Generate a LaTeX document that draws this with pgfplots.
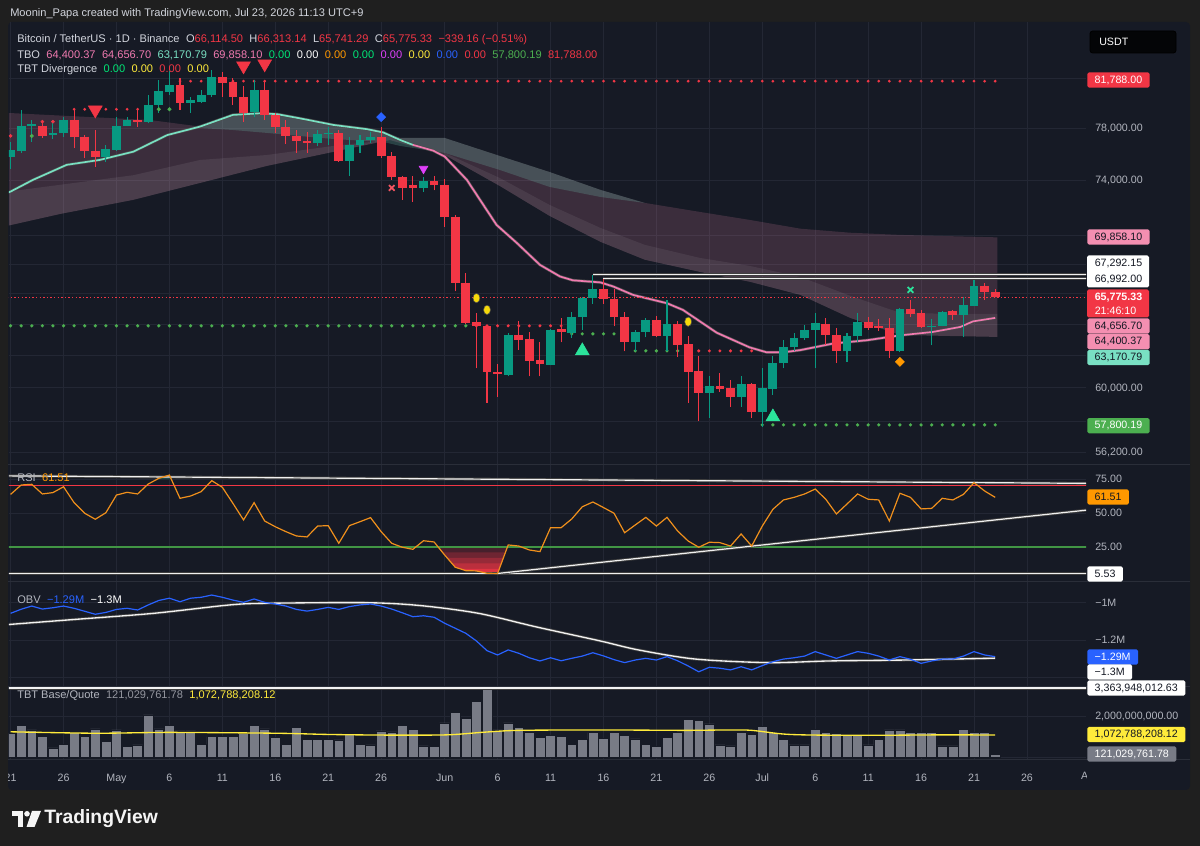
\documentclass[border=0pt]{standalone}
\usepackage{fontspec}
\setmainfont{Liberation Sans}
\usepackage{pgfplots}
\pgfplotsset{compat=1.18}

\definecolor{bgout}{HTML}{1F1F1F}
\definecolor{bgpanel}{HTML}{161A25}
\definecolor{gridc}{HTML}{232734}
\definecolor{sepc}{HTML}{2A2E39}
\definecolor{txt}{HTML}{D1D4DC}
\definecolor{axtxt}{HTML}{B2B5BE}
\definecolor{cgreen}{HTML}{089981}
\definecolor{cred}{HTML}{F23645}
\definecolor{cpink}{HTML}{F48FB1}
\definecolor{linepink}{HTML}{F07AB0}
\definecolor{cteal}{HTML}{79E0C3}
\definecolor{dotgreen}{HTML}{4CAF50}
\definecolor{mint}{HTML}{2BE39B}
\definecolor{rsio}{HTML}{F0901C}
\definecolor{obvblue}{HTML}{2962FF}
\definecolor{volgray}{HTML}{787B86}
\definecolor{voly}{HTML}{FFEB3B}
\definecolor{lime}{HTML}{00E676}
\definecolor{magen}{HTML}{E040FB}
\definecolor{orng}{HTML}{FF9800}
\definecolor{yel}{HTML}{F5D90A}
\definecolor{dark}{HTML}{131722}

\newcommand{\fs}{\fontsize{8}{9.6}\selectfont}
\newcommand{\hs}{\fontsize{8.3}{9.8}\selectfont}
\newcommand{\gap}{\hspace{4.8pt}}
\newcommand{\cdl}[6]{%
  \addplot[#1, line width=0.8pt] coordinates {(#2,#5) (#2,#4)};
  \addplot[#1, line width=6.6pt] coordinates {(#2,#3) (#2,#6)};}
\pgfplotsset{tv/.style={scale only axis, width=807.75pt, anchor=north west,
  xmin=-0.151, xmax=101.577, axis line style={draw=none}, tick style={draw=none},
  major tick length=0pt,
  xtick={0,5,10,15,20,25,30,35,41,46,51,56,61,66,71,76,81,86,91,96},
  xticklabel=\empty, yticklabel=\empty,
  grid=major, grid style={gridc, line width=0.6pt}}}
\newcommand{\bx}[4]{\node[anchor=west, fill=#1, text=#2, font=\fs, inner xsep=5.6pt, inner ysep=0pt, minimum height=11.4pt, rounded corners=1.2pt] at (1087,#3) {#4};}
\newcommand{\tk}[2]{\node[anchor=west, text=axtxt, font=\fs, inner sep=0pt] at (1095,#1) {#2};}

\begin{document}
\begin{tikzpicture}
\useasboundingbox (0,0) rectangle (900pt,634.5pt);
\fill[bgout] (0,0) rectangle (900pt,634.5pt);
\begin{scope}[x=0.75pt,y=-0.75pt,yshift=634.5pt]
\fill[bgpanel, rounded corners=3pt] (8,22) rectangle (1190,790);
\end{scope}

% ================= PRICE =================
\begin{axis}[tv, at={(6.75pt,618pt)}, height=331.5pt, ymode=log, ymin=55569, ymax=86841,
  ytick={56200,58000,60000,62000,64000,66000,68000,70000,74000,78000,82000}]
% cloud
\addplot[draw=none, fill=cpink, fill opacity=0.17] coordinates {(-0.2,79215) (13.2,78650) (17.9,78130) (21,79050) (23.6,79190) (27.3,78790) (30.5,78260) (35.2,77630) (36.8,77240) (41,77240) (46.2,75850) (50.9,74630) (55.7,73290) (59.9,72330) (65.1,71680) (69.8,71100) (74.6,70470) (79.3,70180) (84,70030) (93.2,69858) (93.2,63171) (88.7,63230) (84,63300) (79.3,64400) (74.6,65910) (69.8,66790) (65.1,67460) (59.9,68290) (55.7,69540) (50.9,71390) (46.2,73580) (41,75920) (36.8,76860) (35.8,77080) (30.5,76160) (24.2,75080) (17.9,73810) (11.6,72550) (4.7,71530) (-0.2,70690)} -- cycle;
\addplot[draw=none, fill=white, fill opacity=0.08] coordinates {(-0.2,73160) (11.6,74390) (17.9,75540) (24.2,75920) (30.5,76620) (35.8,77080) (30.5,76160) (24.2,75080) (17.9,73810) (11.6,72550) (4.7,71530) (-0.2,70690)} -- cycle;
\addplot[draw=none, fill=white, fill opacity=0.07] coordinates {(41,76080) (46.2,74180) (50.9,72190) (55.7,70530) (59.9,69330) (65.1,68420) (69.8,67870) (74.6,67120) (79.3,65850) (84,64730) (88.7,64660) (93.2,64657) (93.2,63171) (88.7,63230) (84,63300) (79.3,64400) (74.6,65910) (69.8,66790) (65.1,67460) (59.9,68290) (55.7,69540) (50.9,71390) (46.2,73580) (41,75920)} -- cycle;
\addplot[draw=none, fill=cteal, fill opacity=0.2] coordinates {(17.9,78130) (21,79050) (23.6,79190) (27.3,78790) (30.5,78260) (35.2,77630) (36.8,77240) (41,77240) (46.2,75850) (50.9,74630) (55.7,73290) (59.9,72330) (55.7,72770) (50.9,73510) (46.2,74780) (41,76080) (36.8,76620) (35.2,76930) (30.5,77160) (27.3,77390) (24.2,77630) (21,77870) (17.9,78020)} -- cycle;
% moving average line
\addplot[black!70, line width=2.2pt] coordinates {(-0.2,73100) (0,73160) (2.1,74030) (5.3,75160) (8.4,75540) (11.6,76180) (14.8,77470) (17.9,78130) (21,79050) (23.6,79190) (25.2,79110) (27.3,78790) (30.5,78260) (33.7,77920) (35.2,77660) (36.8,77080) (38,76700) (39.9,76260) (41,75800) (43.1,74030) (45.9,70740) (47.8,69470) (50,67940) (51.9,67150) (53.1,66890) (55.7,66750) (56.9,66480) (58.8,65910) (62,65360) (63.5,64920) (66.7,63440) (69.8,62510) (71.4,62200) (73,62200) (74.6,62340) (77.7,62750) (80.9,62960) (84,63270) (87.1,63490) (89.7,63810) (90.9,64170) (93,64400)};
\addplot[cteal, line width=1.25pt] coordinates {(-0.2,73100) (0,73160) (2.1,74030) (5.3,75160) (8.4,75540) (11.6,76180) (14.8,77470) (17.9,78130) (21,79050) (23.6,79190) (25.2,79110) (27.3,78790) (30.5,78260) (33.7,77920) (35.2,77660) (36.8,77080) (38,76700)};
\addplot[linepink, line width=1.25pt] coordinates {(38,76700) (39.9,76260) (41,75800) (43.1,74030) (45.9,70740) (47.8,69470) (50,67940) (51.9,67150) (53.1,66890) (55.7,66750) (56.9,66480) (58.8,65910) (62,65360) (63.5,64920) (66.7,63440) (69.8,62510) (71.4,62200) (73,62200) (74.6,62340) (77.7,62750) (80.9,62960) (84,63270) (87.1,63490) (89.7,63810) (90.9,64170) (93,64400)};
% level dots
\addplot[cred, line width=2.3pt, line cap=round, dash pattern=on 0pt off 7.9403pt] coordinates {(16,81788) (93.05,81788)};
\addplot[cred, line width=2.3pt, line cap=round, dash pattern=on 0pt off 7.9403pt] coordinates {(6,79511) (12.05,79511)};
\addplot[only marks, mark=*, mark size=1.15pt, cred] coordinates {(0,77396) (3,78521) (4,78521)};
\addplot[only marks, mark=*, mark size=1.3pt, dotgreen] coordinates {(2,77396) (14,79511) (15,79511)};
\addplot[dotgreen, line width=2.7pt, line cap=round, dash pattern=on 0pt off 7.9403pt] coordinates {(0,63888) (43.05,63888)};
\addplot[cred, line width=2.5pt, line cap=round, dash pattern=on 0pt off 7.9403pt] coordinates {(44,63888) (52.05,63888)};
\addplot[dotgreen, line width=2.7pt, line cap=round, dash pattern=on 0pt off 7.9403pt] coordinates {(53,63366) (57.05,63366)};
\addplot[dotgreen, line width=2.7pt, line cap=round, dash pattern=on 0pt off 7.9403pt] coordinates {(59,62286) (63.05,62286)};
\addplot[cred, line width=2.5pt, line cap=round, dash pattern=on 0pt off 7.9403pt] coordinates {(65,62286) (70.05,62286)};
\addplot[dotgreen, line width=2.7pt, line cap=round, dash pattern=on 0pt off 7.9403pt] coordinates {(71,57800.19) (93.05,57800.19)};
% current price line
\addplot[cred, line width=0.6pt, dash pattern=on 1.1pt off 1.6pt] coordinates {(-1,65775.33) (102,65775.33)};
% resistance rays
\addplot[black!75, line width=2.3pt] coordinates {(55,67292.15) (102,67292.15)};
\addplot[white!88!gray, line width=0.9pt] coordinates {(55,67292.15) (102,67292.15)};
\addplot[black!75, line width=2.3pt] coordinates {(56,66992) (102,66992)};
\addplot[white!88!gray, line width=0.9pt] coordinates {(56,66992) (102,66992)};
% candles: colour, day, open, high, low, close
\cdl{cgreen}{0}{75770}{76960}{74860}{76310}
\cdl{cgreen}{1}{76210}{79455}{76110}{78180}
\cdl{cgreen}{2}{78200}{78657}{76960}{78310}
\cdl{cred}{3}{78200}{78657}{77220}{77400}
\cdl{cgreen}{4}{77470}{78657}{77140}{77650}
\cdl{cgreen}{5}{77610}{78920}{77340}{78657}
\cdl{cred}{6}{78657}{79510}{76450}{77340}
\cdl{cred}{7}{77340}{77470}{75700}{76260}
\cdl{cred}{8}{76260}{77866}{75010}{75740}
\cdl{cgreen}{9}{75740}{76695}{75410}{76360}
\cdl{cgreen}{10}{76310}{78920}{76260}{78200}
\cdl{cgreen}{11}{78200}{78920}{78150}{78657}
\cdl{cred}{12}{78657}{79600}{78130}{78520}
\cdl{cgreen}{13}{78520}{80669}{78390}{79858}
\cdl{cgreen}{14}{79858}{81900}{79200}{80940}
\cdl{cgreen}{15}{80860}{82600}{80670}{81490}
\cdl{cred}{16}{81490}{82080}{79455}{79990}
\cdl{cgreen}{17}{80040}{80530}{79200}{80262}
\cdl{cgreen}{18}{80120}{81080}{80000}{80669}
\cdl{cgreen}{19}{80669}{82730}{80500}{82150}
\cdl{cred}{20}{82150}{82560}{80530}{81650}
\cdl{cred}{21}{81730}{82050}{79858}{80480}
\cdl{cred}{22}{80480}{81350}{78520}{79200}
\cdl{cgreen}{23}{79250}{81900}{78920}{81077}
\cdl{cred}{24}{81077}{81900}{78657}{79055}
\cdl{cred}{25}{79050}{79200}{77650}{78130}
\cdl{cred}{26}{78130}{78650}{76790}{77400}
\cdl{cred}{27}{77400}{77870}{76090}{76970}
\cdl{cred}{28}{77000}{77730}{76090}{76830}
\cdl{cgreen}{29}{76830}{77870}{76580}{77530}
\cdl{cgreen}{30}{77550}{78130}{76700}{77620}
\cdl{cred}{31}{77600}{77870}{75400}{75460}
\cdl{cgreen}{32}{75460}{77350}{74310}{76700}
\cdl{cgreen}{33}{76700}{77470}{76110}{77080}
\cdl{cgreen}{34}{77080}{77730}{76840}{77300}
\cdl{cred}{35}{77300}{78130}{75680}{75850}
\cdl{cred}{36}{75850}{76180}{74060}{74250}
\cdl{cred}{37}{74250}{74330}{72550}{73400}
\cdl{cred}{38}{73650}{74330}{72430}{73410}
\cdl{cgreen}{39}{73400}{74210}{73150}{73960}
\cdl{cred}{40}{73960}{74330}{73250}{73650}
\cdl{cred}{41}{73650}{74080}{70620}{71330}
\cdl{cred}{42}{71330}{71460}{66140}{66700}
\cdl{cred}{43}{66740}{67370}{63990}{64060}
\cdl{cred}{44}{64100}{64700}{61200}{63850}
\cdl{cred}{45}{63850}{63947}{59100}{60950}
\cdl{cred}{46}{60980}{61450}{59480}{60830}
\cdl{cgreen}{47}{60800}{63400}{60700}{63300}
\cdl{cred}{48}{63300}{64200}{62350}{62985}
\cdl{cred}{49}{63050}{63520}{60700}{61660}
\cdl{cred}{50}{61725}{62880}{60700}{61460}
\cdl{cgreen}{51}{61415}{63670}{61380}{63625}
\cdl{cred}{52}{63670}{64380}{62830}{63520}
\cdl{cgreen}{53}{63410}{64750}{63100}{64440}
\cdl{cgreen}{54}{64430}{65800}{63620}{65690}
\cdl{cgreen}{55}{65690}{67260}{65320}{66290}
\cdl{cred}{56}{66290}{66970}{65320}{65620}
\cdl{cred}{57}{65620}{66290}{63850}{64440}
\cdl{cred}{58}{64440}{64750}{62250}{62880}
\cdl{cgreen}{59}{62880}{63625}{62250}{63520}
\cdl{cgreen}{60}{63520}{64380}{63150}{64270}
\cdl{cred}{61}{64270}{64530}{63150}{63240}
\cdl{cgreen}{62}{63240}{65580}{62250}{64010}
\cdl{cred}{63}{64010}{64230}{61900}{62670}
\cdl{cred}{64}{62710}{63200}{59100}{60980}
\cdl{cred}{65}{61020}{61940}{58050}{59720}
\cdl{cgreen}{66}{59720}{60750}{58200}{60100}
\cdl{cred}{67}{60100}{60900}{59780}{59950}
\cdl{cred}{68}{59980}{60490}{58880}{59480}
\cdl{cgreen}{69}{59480}{60750}{58880}{60230}
\cdl{cred}{70}{60230}{60300}{58200}{58530}
\cdl{cgreen}{71}{58530}{61200}{57700}{59980}
\cdl{cgreen}{72}{59920}{61940}{59580}{61500}
\cdl{cgreen}{73}{61500}{62985}{61200}{62500}
\cdl{cgreen}{74}{62500}{63450}{62300}{63090}
\cdl{cgreen}{75}{63090}{63950}{62985}{63625}
\cdl{cgreen}{76}{63625}{64700}{61200}{64060}
\cdl{cred}{77}{64010}{64380}{62670}{63300}
\cdl{cred}{78}{63300}{63730}{61520}{62250}
\cdl{cgreen}{79}{62250}{63410}{61620}{63200}
\cdl{cgreen}{80}{63200}{64700}{62880}{64150}
\cdl{cred}{81}{64150}{64440}{63625}{63740}
\cdl{cred}{82}{63850}{64310}{63570}{63720}
\cdl{cred}{83}{63740}{64380}{61830}{62250}
\cdl{cgreen}{84}{62250}{65050}{62200}{65000}
\cdl{cred}{85}{65000}{65580}{64440}{64640}
\cdl{cred}{86}{64700}{64920}{63740}{63810}
\cdl{cgreen}{87}{63810}{64350}{62630}{63900}
\cdl{cgreen}{88}{63900}{64850}{63850}{64750}
\cdl{cred}{89}{64830}{64920}{64270}{64570}
\cdl{cgreen}{90}{64600}{65760}{63150}{65250}
\cdl{cgreen}{91}{65190}{66920}{65150}{66510}
\cdl{cred}{92}{66510}{66720}{65580}{66114.5}
\cdl{cred}{93}{66114.5}{66313.14}{65741.29}{65775.33}
% signal markers
\addplot[only marks, mark=triangle*, mark size=6pt, mark options={rotate=180, fill=cred, draw=cred}] coordinates {(8,79450) (22,83065) (24,83234)};
\addplot[only marks, mark=triangle*, mark size=6pt, mark options={fill=mint, draw=mint}] coordinates {(54,62286) (72,58268)};
\addplot[only marks, mark=*, mark size=2.6pt, mark options={fill=yel, draw=black!70, yscale=1.35}] coordinates {(44,65700) (45,64923) (64,64150)};
\addplot[only marks, mark=square*, mark size=2.4pt, mark options={rotate=45, fill=obvblue, draw=obvblue}] coordinates {(35,78890)};
\addplot[only marks, mark=x, mark size=3pt, mark options={draw=cred!85!white, line width=1.3pt}] coordinates {(36,73430)};
\addplot[only marks, mark=triangle*, mark size=3.8pt, mark options={rotate=180, fill=magen, draw=magen}] coordinates {(39,74870)};
\addplot[only marks, mark=x, mark size=3pt, mark options={draw=mint, line width=1.3pt}] coordinates {(85,66248)};
\addplot[only marks, mark=square*, mark size=2.4pt, mark options={rotate=45, fill=orng, draw=orng}] coordinates {(84,61600)};
\end{axis}

% ================= RSI =================
\begin{axis}[tv, at={(6.75pt,285.75pt)}, height=87pt, ymin=0, ymax=85.3, ytick={25,50,75}]
% oversold gradient (stacked bands) and overbought fill
\addplot[draw=none, fill=cred!22!bgpanel] coordinates {(40.39,25) (41,19.1) (42,10.1) (43,7.6) (44,7.4) (45,5.7) (46,5.53) (46.93,25)} -- cycle;
\addplot[draw=none, fill=cred!40!bgpanel] coordinates {(40.80,21) (41,19.1) (42,10.1) (43,7.6) (44,7.4) (45,5.7) (46,5.53) (46.74,21)} -- cycle;
\addplot[draw=none, fill=cred!58!bgpanel] coordinates {(41.23,17) (42,10.1) (43,7.6) (44,7.4) (45,5.7) (46,5.53) (46.55,17)} -- cycle;
\addplot[draw=none, fill=cred!75!bgpanel] coordinates {(41.68,13) (42,10.1) (43,7.6) (44,7.4) (45,5.7) (46,5.53) (46.36,13)} -- cycle;
\addplot[draw=none, fill=cred!92!bgpanel] coordinates {(42.44,9) (43,7.6) (44,7.4) (45,5.7) (46,5.53) (46.17,9)} -- cycle;
\addplot[draw=none, fill=cgreen!45!bgpanel] coordinates {(13.88,75) (14,75.5) (15,77.9) (15.17,75)} -- cycle;
\addplot[cred, line width=0.9pt] coordinates {(-1,70) (102,70)};
\addplot[dotgreen!85!black, line width=0.8pt] coordinates {(-1,25) (102,25)};
\addplot[black!75, line width=2.3pt] coordinates {(-1,5.53) (102,5.53)};
\addplot[white!88!gray, line width=1pt] coordinates {(-1,5.53) (102,5.53)};
\addplot[black!75, line width=2.2pt] coordinates {(-0.2,77.3) (101.6,71.8)};
\addplot[white!88!gray, line width=0.9pt] coordinates {(-0.2,77.3) (101.6,71.8)};
\addplot[black!75, line width=2.2pt] coordinates {(46,5.53) (101.6,52.1)};
\addplot[white!88!gray, line width=0.9pt] coordinates {(46,5.53) (101.6,52.1)};
\addplot[rsio, line width=0.9pt] coordinates {(0,63.7) (1,70.6) (2,71.1) (3,64) (4,65) (5,69.3) (6,57.6) (7,49.8) (8,45.4) (9,50.2) (10,63.2) (11,65.2) (12,64) (13,71.3) (14,75.5) (15,77.9) (16,60.8) (17,62.5) (18,65.7) (19,73.8) (20,68.9) (21,57.1) (22,44.9) (23,57.6) (24,44.1) (25,39.9) (26,36.3) (27,33.1) (28,32.4) (29,40.4) (30,40.7) (31,27.7) (32,40.7) (33,43.6) (34,46.6) (35,36.3) (36,27.7) (37,24.8) (38,23.3) (39,29.6) (40,28.7) (41,19.1) (42,10.1) (43,7.6) (44,7.4) (45,5.7) (46,5.53) (47,26.5) (48,25.7) (49,22.8) (50,21.6) (51,39.2) (52,39.2) (53,45.6) (54,54.6) (55,58.1) (56,54) (57,49.8) (58,35.5) (59,41.2) (60,46.8) (61,40.4) (62,46.8) (63,36.8) (64,29.4) (65,24.8) (66,28.5) (67,28.2) (68,25.7) (69,34.6) (70,25.7) (71,40.4) (72,52.7) (73,59.6) (74,61.5) (75,64) (76,67.6) (77,60.1) (78,49.3) (79,56.6) (80,64) (81,60.1) (82,59.6) (83,44.1) (84,64.5) (85,61.5) (86,53) (87,53.4) (88,60.8) (89,59.6) (90,63.7) (91,72.3) (92,66.2) (93,61.51)};
\end{axis}

% ================= OBV =================
\begin{axis}[tv, at={(6.75pt,198pt)}, height=78pt, ymin=-1.4462, ymax=-0.8891, ytick={-1.4,-1.2,-1}]
\addplot[black!75, line width=2.2pt, smooth] coordinates {(-0.2,-1.117) (0,-1.116) (6.2,-1.089) (13.5,-1.057) (20.7,-1.012) (24.3,-1.003) (33.7,-1.0) (38.8,-1.016) (44.2,-1.057) (49.6,-1.129) (55.7,-1.205) (59.3,-1.253) (64.7,-1.302) (71.6,-1.321) (77.4,-1.312) (84.6,-1.307) (93,-1.297)};
\addplot[white!90!gray, line width=1pt, smooth] coordinates {(-0.2,-1.117) (0,-1.116) (6.2,-1.089) (13.5,-1.057) (20.7,-1.012) (24.3,-1.003) (33.7,-1.0) (38.8,-1.016) (44.2,-1.057) (49.6,-1.129) (55.7,-1.205) (59.3,-1.253) (64.7,-1.302) (71.6,-1.321) (77.4,-1.312) (84.6,-1.307) (93,-1.297)};
\addplot[obvblue, line width=0.9pt] coordinates {(0,-1.057) (1,-1.035) (2,-1.018) (3,-1.034) (4,-1.027) (5,-1.018) (6,-1.030) (7,-1.046) (8,-1.062) (9,-1.052) (10,-1.036) (11,-1.030) (12,-1.039) (13,-1.012) (14,-0.988) (15,-0.976) (16,-0.995) (17,-0.976) (18,-0.971) (19,-0.959) (20,-0.971) (21,-0.986) (22,-0.998) (23,-0.980) (24,-0.998) (25,-1.007) (26,-1.018) (27,-1.036) (28,-1.045) (29,-1.036) (30,-1.025) (31,-1.036) (32,-1.021) (33,-1.012) (34,-1.007) (35,-1.018) (36,-1.034) (37,-1.054) (38,-1.075) (39,-1.070) (40,-1.078) (41,-1.110) (42,-1.137) (43,-1.164) (44,-1.205) (45,-1.257) (46,-1.280) (47,-1.253) (48,-1.271) (49,-1.295) (50,-1.312) (51,-1.295) (52,-1.311) (53,-1.298) (54,-1.286) (55,-1.268) (56,-1.285) (57,-1.305) (58,-1.321) (59,-1.307) (60,-1.298) (61,-1.307) (62,-1.289) (63,-1.311) (64,-1.339) (65,-1.370) (66,-1.346) (67,-1.351) (68,-1.360) (69,-1.343) (70,-1.360) (71,-1.337) (72,-1.316) (73,-1.302) (74,-1.295) (75,-1.286) (76,-1.262) (77,-1.280) (78,-1.298) (79,-1.280) (80,-1.262) (81,-1.271) (82,-1.286) (83,-1.307) (84,-1.289) (85,-1.303) (86,-1.325) (87,-1.312) (88,-1.302) (89,-1.302) (90,-1.286) (91,-1.262) (92,-1.280) (93,-1.289)};
\end{axis}

% ================= VOLUME =================
\begin{axis}[tv, at={(6.75pt,119.25pt)}, height=54.75pt, ymin=-0.146, ymax=3.415, ytick={0,2},
  xticklabels={21,26,May,6,11,16,21,26,Jun,6,11,16,21,26,Jul,6,11,16,21,26},
  xticklabel style={font=\fs, text=axtxt, yshift=-7pt}]
\addplot[ybar, bar width=0.93, bar shift=0pt, fill=volgray, draw=bgpanel, line width=0.4pt] coordinates {(0,1.16) (1,1.53) (2,1.32) (3,0.99) (4,0.45) (5,0.63) (6,1.19) (7,0.99) (8,1.37) (9,0.78) (10,1.32) (11,0.50) (12,0.59) (13,2.05) (14,1.37) (15,1.53) (16,1.27) (17,1.27) (18,0.62) (19,0.99) (20,1.02) (21,0.99) (22,1.16) (23,1.56) (24,1.37) (25,0.96) (26,0.63) (27,1.43) (28,0.86) (29,0.86) (30,0.86) (31,0.83) (32,1.16) (33,0.63) (34,0.59) (35,1.27) (36,1.23) (37,1.56) (38,1.35) (39,0.54) (40,0.50) (41,1.67) (42,2.16) (43,1.89) (44,2.73) (45,3.364) (46,1.32) (47,1.67) (48,1.43) (49,1.23) (50,0.96) (51,1.07) (52,1.02) (53,0.63) (54,0.86) (55,1.19) (56,0.91) (57,1.19) (58,1.04) (59,0.88) (60,0.62) (61,0.50) (62,0.96) (63,1.19) (64,1.84) (65,1.80) (66,1.61) (67,0.59) (68,0.54) (69,1.19) (70,1.12) (71,1.48) (72,1.20) (73,0.86) (74,0.59) (75,0.59) (76,1.35) (77,1.19) (78,1.16) (79,1.11) (80,1.11) (81,0.59) (82,0.86) (83,1.32) (84,1.32) (85,1.19) (86,1.19) (87,1.19) (88,0.54) (89,0.54) (90,1.35) (91,1.20) (92,1.19) (93,0.121)};
\addplot[voly, line width=1pt, smooth] coordinates {(0,1.23) (8,1.16) (15,1.2) (25,1.16) (30,1.1) (35,1.07) (40,1.07) (42,1.1) (45,1.22) (48,1.3) (55,1.32) (60,1.31) (64,1.3) (68,1.32) (70,1.3) (73,1.12) (76,1.07) (82,1.06) (88,1.08) (93,1.0728)};
\addplot[black!75, line width=2.2pt] coordinates {(-1,3.364) (102,3.364)};
\addplot[white!90!gray, line width=0.9pt] coordinates {(-1,3.364) (102,3.364)};
\end{axis}

% ================= OVERLAY (pixel coordinates) =================
\begin{scope}[x=0.75pt,y=-0.75pt,yshift=634.5pt]
\fill[bgout] (0,22) rectangle (8,790);
\foreach \yy in {464.5,581.5,686.5,759.5} \draw[sepc, line width=0.9pt] (8,\yy) -- (1190,\yy);
\node[font=\fs, text=axtxt, anchor=base] at (1090.5,780) {Aug};
\fill[bgpanel] (1087,762) rectangle (1189,789);
% title
\node[anchor=west, font=\hs, text=txt, inner sep=0pt] at (10,14) {Moonin\_Papa created with TradingView.com, Jul 23, 2026 11:13 UTC+9};
% legend rows
\node[anchor=west, font=\hs, text=txt, inner sep=0pt] at (17,40) {Bitcoin / TetherUS · 1D · Binance\gap O\textcolor{cred}{66,114.50}\gap H\textcolor{cred}{66,313.14}\gap L\textcolor{cred}{65,741.29}\gap C\textcolor{cred}{65,775.33}\gap\textcolor{cred}{−339.16 (−0.51\%)}};
\node[anchor=west, font=\hs, text=txt, inner sep=0pt] at (17,55) {TBO\gap\textcolor{linepink}{64,400.37}\gap\textcolor{linepink}{64,656.70}\gap\textcolor{cteal}{63,170.79}\gap\textcolor{linepink}{69,858.10}\gap\textcolor{lime}{0.00}\gap\textcolor{white}{0.00}\gap\textcolor{orng}{0.00}\gap\textcolor{lime}{0.00}\gap\textcolor{magen}{0.00}\gap\textcolor{voly}{0.00}\gap\textcolor{obvblue}{0.00}\gap\textcolor{cred}{0.00}\gap\textcolor{dotgreen}{57,800.19}\gap\textcolor{cred}{81,788.00}};
\node[anchor=west, font=\hs, text=txt, inner sep=0pt] at (17,70) {TBT Divergence\gap\textcolor{lime}{0.00}\gap\textcolor{voly}{0.00}\gap\textcolor{cred}{0.00}\gap\textcolor{voly}{0.00}};
\node[anchor=west, font=\hs, text=axtxt, inner sep=0pt] at (17,478) {RSI\gap\textcolor{orng}{61.51}};
\node[anchor=west, font=\hs, text=axtxt, inner sep=0pt] at (17,600) {OBV\gap\textcolor{obvblue}{−1.29M}\gap\textcolor{white}{−1.3M}};
\node[anchor=west, font=\hs, text=axtxt, inner sep=0pt] at (17,696) {TBT Base/Quote\gap\textcolor{volgray!80!white}{121,029,761.78}\gap\textcolor{voly}{1,072,788,208.12}};
% USDT
\draw[fill=black!80!bgpanel, draw=sepc!150, rounded corners=2pt, line width=0.6pt] (1090,31) rectangle (1176,53);
\node[anchor=west, font=\fs, text=white, inner sep=0pt] at (1099,42) {USDT};
% scale ticks
\tk{128.3}{78,000.00}
\tk{180.4}{74,000.00}
\tk{388.3}{60,000.00}
\tk{452.7}{56,200.00}
\tk{479}{75.00}
\tk{512.7}{50.00}
\tk{547.3}{25.00}
\tk{602.7}{−1M}
\tk{640}{−1.2M}
\tk{716}{2,000,000,000.00}
% value boxes
\bx{cred}{white}{80}{81,788.00}
\bx{cpink}{dark}{237}{69,858.10}
\fill[white, rounded corners=1.2pt] (1087,255.5) rectangle (1149,287.5);
\node[anchor=west, font=\fs, text=dark, inner sep=0pt] at (1094.5,263.5) {67,292.15};
\node[anchor=west, font=\fs, text=dark, inner sep=0pt] at (1094.5,279.5) {66,992.00};
\fill[cred, rounded corners=1.2pt] (1087,289.5) rectangle (1149,317.5);
\node[anchor=west, font=\fs\bfseries, text=white, inner sep=0pt] at (1094.5,297.5) {65,775.33};
\node[anchor=west, font=\fs, text=white, inner sep=0pt] at (1094.5,311) {21:46:10};
\bx{cpink}{dark}{326}{64,656.70}
\bx{cpink}{dark}{341.7}{64,400.37}
\bx{cteal}{dark}{357.5}{63,170.79}
\bx{dotgreen}{white}{425.7}{57,800.19}
\bx{orng}{dark}{497}{61.51}
\bx{white}{dark}{574}{5.53}
\bx{obvblue}{white}{657}{−1.29M}
\bx{white}{dark}{672}{−1.3M}
\bx{white}{dark}{688}{3,363,948,012.63}
\bx{voly}{dark}{734.5}{1,072,788,208.12}
\bx{volgray}{white}{754}{121,029,761.78}
% TradingView logo
\fill[white!92!gray] (12,811) rectangle (23,816.5);
\fill[white!92!gray] (17.5,811) rectangle (23,827);
\fill[white!92!gray] (27,813.8) circle (2.8);
\fill[white!92!gray] (32,811) -- (41,811) -- (34.5,827) -- (26.5,827) -- cycle;
\node[anchor=west, font=\fontsize{14.5}{17}\selectfont\bfseries, text=white!92!gray, inner sep=0pt] at (44,818.5) {TradingView};
\end{scope}
\end{tikzpicture}
\end{document}
